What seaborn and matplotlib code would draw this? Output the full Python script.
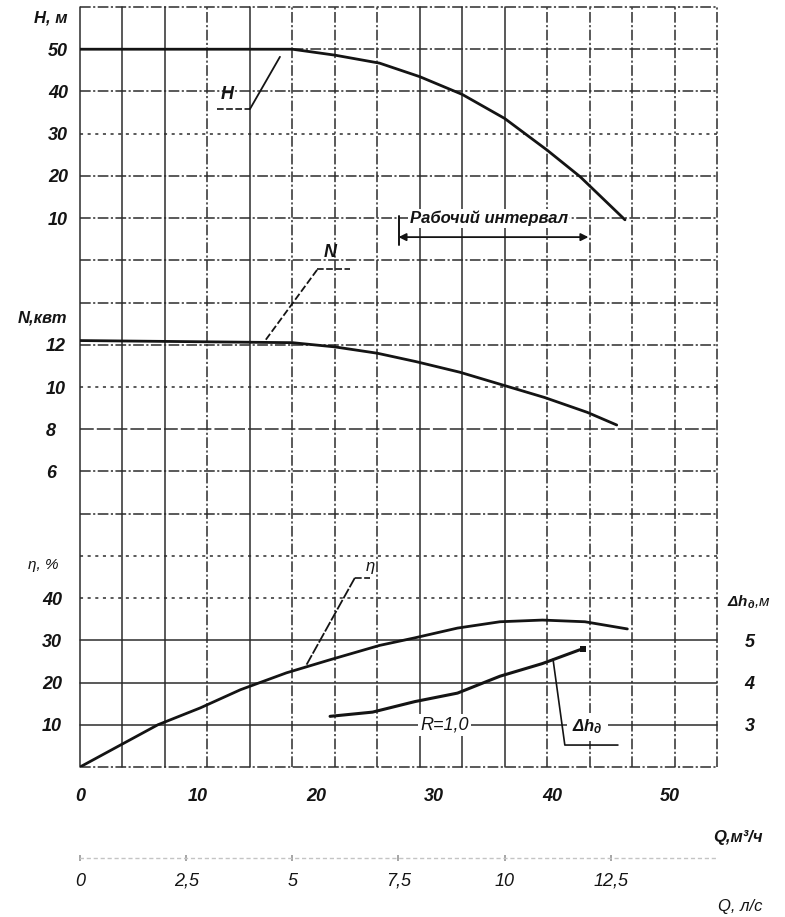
import matplotlib
matplotlib.use("Agg")
import matplotlib.pyplot as plt
import seaborn as sns

# pump curves, Q in m3/h
q_head = [0, 18, 21.6, 25.4, 28.8, 32.4, 36.0, 39.6, 42.4, 46.2]
head = [50, 50, 48.6, 46.7, 43.5, 39.3, 33.6, 26.1, 19.8, 9.6]

q_power = [0, 18, 21.6, 25.2, 28.5, 32.2, 35.8, 39.4, 43.0, 45.5]
power = [12.2, 12.1, 11.9, 11.6, 11.2, 10.7, 10.1, 9.5, 8.8, 8.2]

q_eff = [0, 3.1, 6.6, 10.2, 13.6, 17.5, 21.2, 25.4, 28.4, 32.0, 35.6, 39.2, 42.8, 46.4]
eff = [0, 4.7, 10.0, 14.0, 18.3, 22.3, 25.4, 28.8, 30.6, 32.9, 34.4, 34.8, 34.4, 32.7]

q_npsh = [21.2, 24.8, 28.4, 32.0, 35.6, 39.2, 42.6]
npsh = [3.2, 3.3, 3.55, 3.75, 4.15, 4.45, 4.8]

work_range = [27.0, 43.1]

q_ticks = [0, 10, 20, 30, 40, 50]
ls_ticks = [0, 2.5, 5, 7.5, 10, 12.5]
h_ticks = [10, 20, 30, 40, 50]
n_ticks = [6, 8, 10, 12]
eff_ticks = [10, 20, 30, 40]
npsh_ticks = [3, 4, 5]

M3H_PER_LS = 3.6

sns.set_theme(style="white")
plt.rcParams["font.family"] = ["Liberation Sans", "DejaVu Sans"]
plt.rcParams["font.style"] = "italic"
plt.rcParams["font.weight"] = "bold"
plt.rcParams["mathtext.fontset"] = "custom"
plt.rcParams["mathtext.rm"] = "Liberation Sans:italic:bold"
plt.rcParams["mathtext.it"] = "Liberation Sans:italic:bold"

INK = "#141414"
GRID = "#2c2c2c"
FS = 13

fig = plt.figure(figsize=(7.85, 9.17), dpi=100)
rect = [80 / 785, 1 - 767 / 917, 637 / 785, 760 / 917]
ax_h = fig.add_axes(rect)
ax_n = fig.add_axes(rect, label="power")
ax_e = fig.add_axes(rect, label="eff")
ax_d = fig.add_axes(rect, label="npsh")
for ax in (ax_h, ax_n, ax_e, ax_d):
    ax.set_xlim(0, 54)
    ax.patch.set_visible(False)
    for s in ax.spines.values():
        s.set_visible(False)
ax_h.set_ylim(-120, 60)
ax_n.set_ylim(-8, 28)
ax_e.set_ylim(0, 180)
ax_d.set_ylim(2, 20)

# grid: one cell = 1 l/s across, 10 m of head down
SOL = "-"
DD = (0, (7, 1.6, 1.4, 1.6))
DT = (0, (2, 3))
DA = (0, (9, 2))
v_styles = [SOL, SOL, SOL, DD, SOL, DD, DD, DD, SOL, SOL, SOL, DD, DD, DD, DD, DD]
h_styles = [DD, DD, DD, DT, DD, DD, DD, DD, DD, DT, DA, DD, DD, DT, DT, SOL, SOL, SOL, DD]
for k, st in enumerate(v_styles):
    ax_h.axvline(k * M3H_PER_LS, color=GRID, lw=1.1, ls=st, clip_on=False, zorder=1)
for j, st in enumerate(h_styles):
    ax_h.axhline(60 - 10 * j, color=GRID, lw=1.1, ls=st, clip_on=False, zorder=1)

# curves
sns.lineplot(x=q_head, y=head, ax=ax_h, color=INK, lw=2.0, zorder=3)
sns.lineplot(x=q_power, y=power, ax=ax_n, color=INK, lw=2.0)
sns.lineplot(x=q_eff, y=eff, ax=ax_e, color=INK, lw=2.0)
sns.lineplot(x=q_npsh, y=npsh, ax=ax_d, color=INK, lw=2.2)
sns.scatterplot(x=q_npsh[-1:], y=npsh[-1:], ax=ax_d, color=INK, marker="s", s=14, linewidth=0)

# ticks
ax_h.set_xticks(q_ticks, labels=[str(v) for v in q_ticks])
ax_h.set_yticks(h_ticks, labels=[str(v) for v in h_ticks])
ax_h.tick_params(axis="x", length=0, pad=15, labelsize=FS, colors=INK)
ax_h.tick_params(axis="y", length=0, pad=8.6, labelsize=FS, colors=INK)

ax_n.set_xticks([])
ax_n.set_yticks(n_ticks, labels=[str(v) for v in n_ticks])
ax_n.tick_params(axis="y", length=0, pad=24.5, labelsize=FS, colors=INK)
for lab in ax_n.get_yticklabels():
    lab.set_ha("left")

ax_e.set_xticks([])
ax_e.set_yticks(eff_ticks, labels=[str(v) for v in eff_ticks])
ax_e.tick_params(axis="y", length=0, pad=13, labelsize=FS, colors=INK)

ax_d.set_xticks([])
ax_d.yaxis.tick_right()
ax_d.set_yticks(npsh_ticks, labels=[str(v) for v in npsh_ticks])
ax_d.tick_params(axis="y", length=0, pad=20, labelsize=FS, colors=INK)

sec = ax_h.secondary_xaxis(-0.12, functions=(lambda q: q / M3H_PER_LS, lambda l: l * M3H_PER_LS))
sec.set_xticks(ls_ticks, labels=[f"{v:g}".replace(".", ",") for v in ls_ticks])
sec.tick_params(axis="x", length=5, direction="inout", color="#9a9a9a", pad=8,
                labelsize=FS, labelcolor=INK)
for lab in sec.get_xticklabels():
    lab.set_fontweight("normal")
sec.spines["bottom"].set(color="#c4c4c4", linestyle=(0, (2, 3)), linewidth=1)

# axis captions
ax_h.text(-0.02, 0.9855, "H, м", transform=ax_h.transAxes, ha="right", va="center",
          fontsize=FS - 1, color=INK)
ax_h.text(-0.02, 0.591, "N,квт", transform=ax_h.transAxes, ha="right", va="center",
          fontsize=FS - 1, color=INK)
ax_h.text(-0.0345, 0.266, "η, %", transform=ax_h.transAxes, ha="right", va="center",
          fontsize=FS - 2, color=INK, fontweight="normal")
ax_h.text(1.0157, 0.217, r"$\Delta h_д$,м", transform=ax_h.transAxes, ha="left",
          va="center", fontsize=FS - 2, color=INK, fontweight="normal")
ax_h.text(1.072, -0.093, "Q,м³/ч", transform=ax_h.transAxes, ha="right", va="center",
          fontsize=FS - 1, color=INK)
ax_h.text(1.072, -0.184, "Q, л/с", transform=ax_h.transAxes, ha="right", va="center",
          fontsize=FS - 1, color=INK, fontweight="normal")

# curve callouts
ax_h.text(12.5, 39.2, "H", ha="center", va="center", fontsize=FS, color=INK)
ax_h.plot([11.6, 14.4], [35.8, 35.8], color=INK, lw=1.2, ls=(0, (4, 1.5)))
ax_h.plot([14.4, 16.95], [35.8, 48.2], color=INK, lw=1.3)

ax_n.text(21.2, 16.35, "N", ha="center", va="center", fontsize=FS, color=INK)
ax_n.plot([20.1, 22.9], [15.6, 15.6], color=INK, lw=1.2, ls=(0, (4, 1.5)))
ax_n.plot([20.1, 15.7], [15.55, 12.2], color=INK, lw=1.3, ls=(0, (4, 1.5)))

ax_e.text(24.6, 47.5, "η", ha="center", va="center", fontsize=FS - 1, color=INK,
          fontweight="normal")
ax_e.plot([23.3, 24.6], [44.8, 44.8], color=INK, lw=1.2, ls=(0, (4, 1.5)))
ax_e.plot([23.3, 19.1], [44.8, 23.7], color=INK, lw=1.3, ls=(0, (6, 1)))

ax_e.text(30.9, 10, "R=1,0", ha="center", va="center", fontsize=FS, color=INK,
          fontweight="normal",
          bbox=dict(boxstyle="square,pad=0.15", fc="white", ec="none"))

ax_d.text(43.0, 2.95, r"$\Delta h_д$", ha="center", va="center", fontsize=FS - 1, color=INK,
          bbox=dict(boxstyle="square,pad=0.3", fc="white", ec="none"), zorder=4)
ax_d.plot([40.1, 41.1, 45.6], [4.55, 2.52, 2.52], color=INK, lw=1.2, zorder=5)

# working range marker
ax_h.text(sum(work_range) / 2 - 0.4, 10, "Рабочий интервал", ha="center", va="center",
          fontsize=FS - 1, color=INK,
          bbox=dict(boxstyle="square,pad=0.1", fc="white", ec="none"), zorder=4)
ax_h.annotate("", xy=(work_range[0], 5.5), xytext=(work_range[1], 5.5),
              arrowprops=dict(arrowstyle="<|-|>", color=INK, lw=1.3, mutation_scale=11,
                              shrinkA=0, shrinkB=0), zorder=4)
ax_h.plot([work_range[0], work_range[0]], [3.6, 10.4], color=INK, lw=1.4, zorder=4)

fig.savefig("out.png", dpi=100, facecolor="white")
